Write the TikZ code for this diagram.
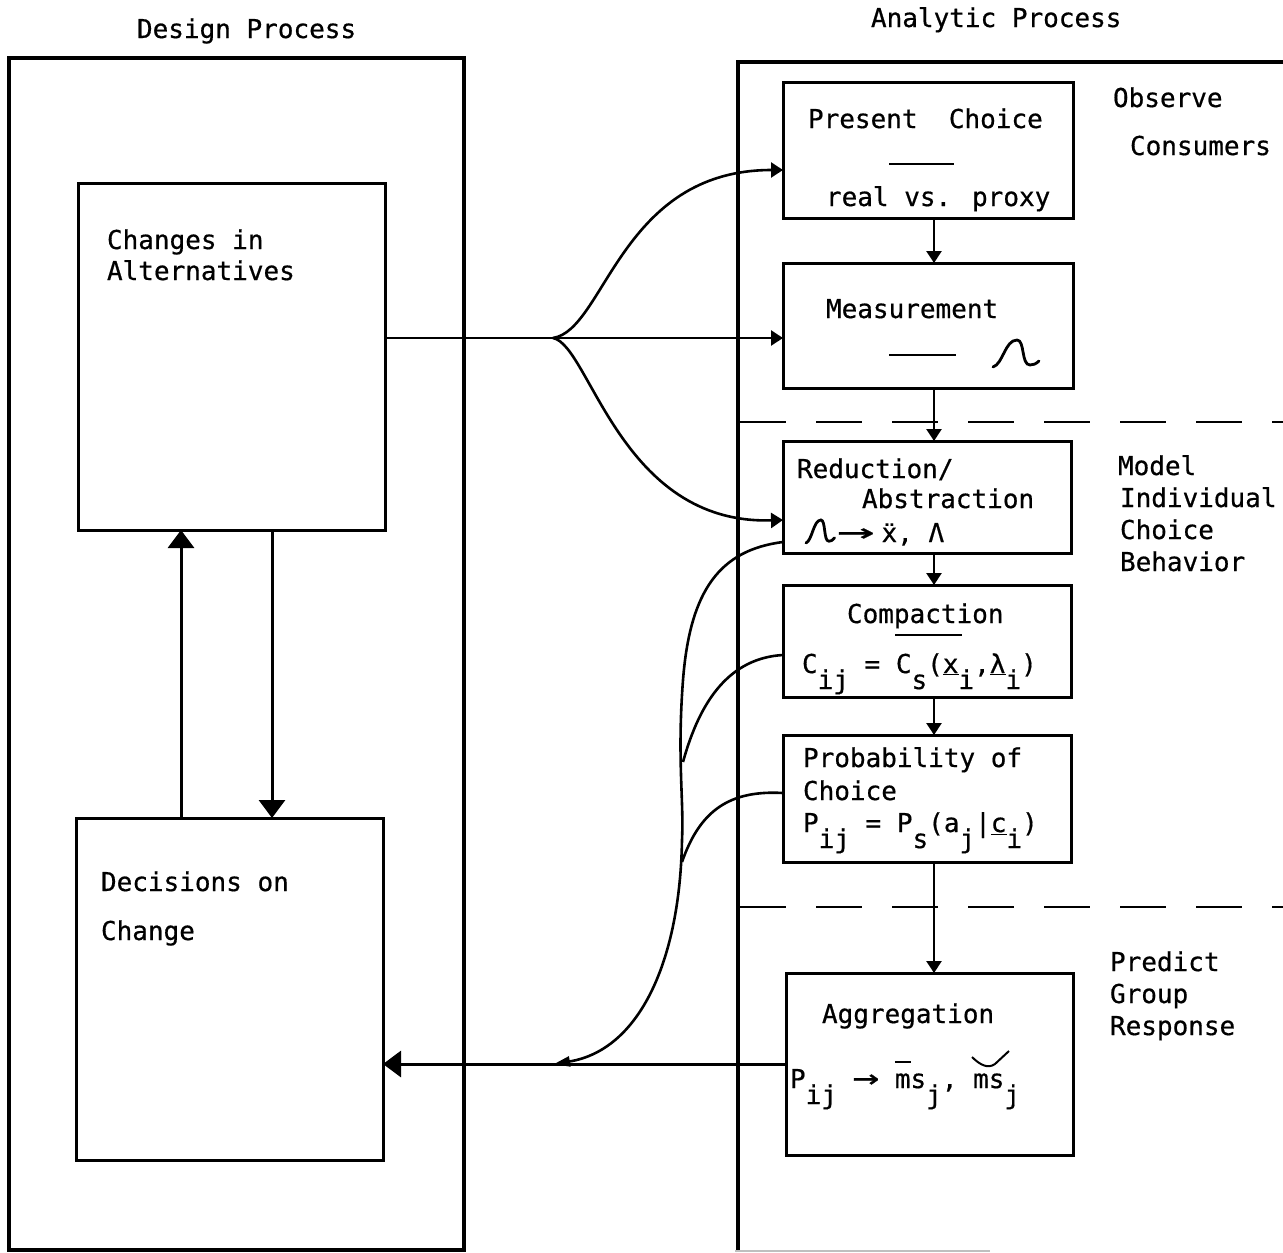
\documentclass[tikz,border=0pt]{standalone}
\usepackage{fontspec}
\usepackage{graphicx}
\usepackage{tikz}
\usetikzlibrary{arrows.meta}
\newfontfamily\typew[FakeBold=0.6]{DejaVu Sans Mono}
\newcommand\dn[1]{\raisebox{-16pt}{#1}}
\newcommand\ul[1]{\underline{#1}}
\newcommand\ovl[1]{\rlap{\rule[25pt]{16pt}{1.8pt}}#1}
\newcommand\longto{\scalebox{2.4}[1.2]{→}}
\newcommand\midto{\scalebox{1.7}[1.2]{→}}

\begin{document}
\begin{tikzpicture}[x=1pt, y=-1pt,
    every node/.style={inner sep=0, outer sep=0},
    box/.style={draw, line width=3pt},
    txt/.style={font=\typew\fontsize{26}{30}\selectfont, anchor=base west},
    panel/.style={line width=3.2pt},
    arr/.style={line width=2.6pt, -{Triangle[width=15pt,length=12pt]}},
    bigarr/.style={line width=3pt, -{Triangle[width=26pt,length=18pt]}},
    curve/.style={line width=2.6pt},
    sep/.style={line width=2.4pt, dash pattern=on 46pt off 30pt},
    omega/.pic={\draw[line width=2.8pt, line cap=round] (0,27) .. controls (10,24) and (12,0) .. (24,0)
      .. controls (32,0) and (28,25) .. (37,25) .. controls (40,25) and (43,24) .. (46,21);}]
  \useasboundingbox (0,0) rectangle (1283,1253);

  % the two processes
  \node[txt] (dtitle) at (137,38) {Design Process};
  \node[txt] (atitle) at (871,27) {Analytic Process};
  \draw[panel] (9,58) rectangle (464,1250);
  \draw[panel] (738,1252) -- (738,62) -- (1283,62);
  \draw[gray!50, line width=1.5pt] (735,1251) -- (990,1251);
  \draw[sep] (740,422) -- (1283,422);
  \draw[sep] (740,907) -- (1283,907);

  % design side
  \node[box, minimum width=307pt, minimum height=347pt] (chg) at (231.5,356.5) {};
  \node[box, minimum width=307pt, minimum height=342pt] (dec) at (229.5,989) {};
  \node[txt] (chg1) at (107,249) {Changes in};
  \node[txt] (chg2) at (107,280) {Alternatives};
  \node[txt] (dec1) at (101,891) {Decisions on};
  \node[txt] (dec2) at (101,940) {Change};

  % analytic side
  \node[box, minimum width=290pt, minimum height=136pt] (pres) at (928,150) {};
  \node[box, minimum width=290pt, minimum height=125pt] (meas) at (928,325.5) {};
  \node[box, minimum width=288pt, minimum height=112pt] (red) at (927,497) {};
  \node[box, minimum width=288pt, minimum height=112pt] (cmp) at (927,641) {};
  \node[box, minimum width=288pt, minimum height=127pt] (prob) at (927,798.5) {};
  \node[box, minimum width=287pt, minimum height=182pt] (agg) at (929.5,1064) {};

  \node[txt] (pres1) at (808,128) {Present\ \ Choice};
  \draw[line width=1.8pt] (889,164) -- (954,164);
  \node[txt] (pres2) at (826,206) {real vs. proxy};
  \node[txt] (meas1) at (826,318) {Measurement};
  \draw[line width=1.8pt] (889,355) -- (956,355);
  \pic at (993,340) {omega};
  \node[txt] (red1) at (797,478) {Reduction/};
  \node[txt] (red2) at (862,508) {Abstraction};
  \pic[xscale=0.62, yscale=0.85] at (806,520) {omega};
  \node[txt] (red3) at (837,542) {\longto\hspace{7pt}ẍ, Λ};
  \node[txt] (cmp1) at (847,623) {Compaction};
  \draw[line width=1.8pt] (895,635) -- (962,635);
  \node[txt] (cmp2) at (802,673) {C\dn{ij} = C\dn{s}(\ul{x}\dn{i},\ul{λ}\dn{i})};
  \node[txt] (prob1) at (803,767) {Probability of};
  \node[txt] (prob2) at (803,800) {Choice};
  \node[txt] (prob3) at (803,832) {P\dn{ij} = P\dn{s}(a\dn{j}|\ul{c}\dn{i})};
  \node[txt] (agg1) at (822,1023) {Aggregation};
  \node[txt] (agg2) at (790,1088) {P\dn{ij} \midto\ \ovl{m}s\dn{j}, ms\dn{j}};
  \draw[line width=2pt] (972,1057) .. controls (980,1065) and (988,1069) .. (995,1064) -- (1009,1051);

  \node[txt] (obs1) at (1113,107) {Observe};
  \node[txt] (obs2) at (1130,155) {Consumers};
  \node[txt] (mod1) at (1118,475) {Model};
  \node[txt] (mod2) at (1120,507) {Individual};
  \node[txt] (mod3) at (1120,539) {Choice};
  \node[txt] (mod4) at (1120,571) {Behavior};
  \node[txt] (pre1) at (1110,971) {Predict};
  \node[txt] (pre2) at (1110,1003) {Group};
  \node[txt] (pre3) at (1110,1035) {Response};

  % connectors
  \coordinate (upx) at (181,0);
  \coordinate (downx) at (272,0);
  \coordinate (col) at (934,0);
  \coordinate (fork) at (553,338);
  \coordinate (tip) at (554,1064);

  \draw[bigarr] (dec.north -| upx) -- (chg.south -| upx);
  \draw[bigarr] (chg.south -| downx) -- (dec.north -| downx);

  \draw[arr] (pres.south -| col) -- (meas.north -| col);
  \draw[arr] (meas.south -| col) -- (red.north -| col);
  \draw[arr] (red.south -| col) -- (cmp.north -| col);
  \draw[arr] (cmp.south -| col) -- (prob.north -| col);
  \draw[arr] (prob.south -| col) -- (agg.north -| col);

  \draw[line width=2.8pt] (chg.east |- fork) -- (fork);
  \draw[arr] (fork) -- (meas.west |- fork);
  \draw[arr] (fork) .. controls (605,330) and (620,170) .. ([yshift=-20pt]pres.west);
  \draw[arr] (fork) .. controls (590,345) and (620,525) .. ([yshift=-23pt]red.west);

  \draw[curve, -{Triangle[width=10pt,length=16pt]}] ([yshift=-45pt]red.west) .. controls (720,550) and (690,590) .. (683,680)
    .. controls (677,760) and (684,800) .. (682,840) .. controls (680,960) and (640,1050) .. (tip);
  \draw[curve] ([yshift=-14pt]cmp.west) .. controls (730,658) and (700,700) .. (683,762);
  \draw[curve] ([yshift=5.5pt]prob.west) .. controls (730,790) and (700,810) .. (682,862);
  \draw[bigarr] (agg.west) -- (dec.east |- agg.west);
\end{tikzpicture}
\end{document}
